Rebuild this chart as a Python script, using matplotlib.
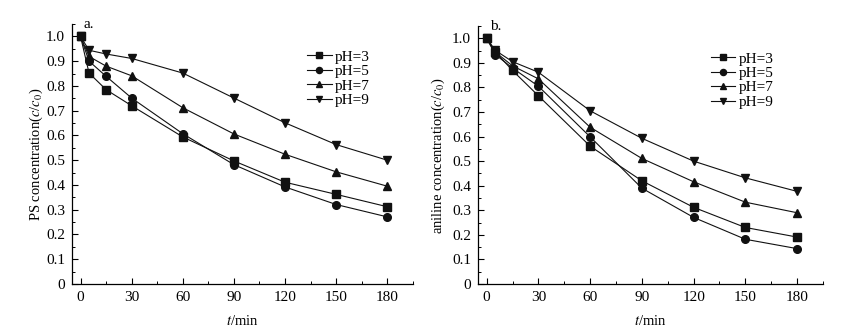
import matplotlib
matplotlib.use('Agg')
import matplotlib.pyplot as plt
from matplotlib.ticker import MultipleLocator, FuncFormatter

plt.rcParams['font.family'] = ['Liberation Serif', 'DejaVu Serif']
plt.rcParams['mathtext.fontset'] = 'stix'
plt.rcParams['font.size'] = 11

t = [0, 5, 15, 30, 60, 90, 120, 150, 180]
labels = ['pH=3', 'pH=5', 'pH=7', 'pH=9']
markers = ['s', 'o', '^', 'v']

# panel a: PS
ps_ph3 = [1.0, 0.852, 0.785, 0.72, 0.594, 0.497, 0.411, 0.362, 0.312]
ps_ph5 = [1.0, 0.90, 0.839, 0.751, 0.607, 0.482, 0.392, 0.321, 0.271]
ps_ph7 = [1.0, 0.919, 0.88, 0.841, 0.712, 0.606, 0.524, 0.453, 0.395]
ps_ph9 = [1.0, 0.944, 0.929, 0.911, 0.852, 0.751, 0.651, 0.563, 0.50]

# panel b: aniline
an_ph3 = [1.0, 0.945, 0.869, 0.766, 0.561, 0.42, 0.312, 0.230, 0.191]
an_ph5 = [1.0, 0.934, 0.879, 0.805, 0.599, 0.390, 0.271, 0.182, 0.144]
an_ph7 = [1.0, 0.944, 0.888, 0.835, 0.638, 0.511, 0.416, 0.333, 0.29]
an_ph9 = [1.0, 0.951, 0.905, 0.862, 0.705, 0.593, 0.50, 0.432, 0.377]

fig = plt.figure(figsize=(8.48, 3.32), dpi=100)
ax1 = fig.add_axes([0.0849, 0.1446, 0.402, 0.783])
ax2 = fig.add_axes([0.5637, 0.1446, 0.4068, 0.777])


def yfmt(v, pos):
    return '0' if abs(v) < 1e-9 else '%.1f' % v


def draw(ax, series, ylabel, tag, legx, ypad):
    for ys, lab, m in zip(series, labels, markers):
        ax.plot(t, ys, color='#111111', lw=0.8, marker=m, ms=5.5, label=lab)
    ax.set_xlim(-5, 195)
    ax.set_ylim(0, 1.05)
    ax.xaxis.set_major_locator(MultipleLocator(30))
    ax.xaxis.set_minor_locator(MultipleLocator(15))
    ax.yaxis.set_major_locator(MultipleLocator(0.1))
    ax.yaxis.set_minor_locator(MultipleLocator(0.05))
    ax.yaxis.set_major_formatter(FuncFormatter(yfmt))
    ax.spines['top'].set_visible(False)
    ax.spines['right'].set_visible(False)
    for s in ('left', 'bottom'):
        ax.spines[s].set_linewidth(0.9)
    ax.tick_params(direction='in', length=4, width=0.8, pad=5)
    ax.tick_params(which='minor', direction='in', length=2.5, width=0.7)
    ax.set_xlabel(r'$t$/min', labelpad=7, fontsize=10.5)
    ax.set_ylabel(ylabel, labelpad=ypad, fontsize=10.5)
    ax.text(0.035, 1.0, tag, transform=ax.transAxes, ha='left', va='center')
    ax.legend(loc='upper left', bbox_to_anchor=(legx, 0.90), frameon=False,
              handlelength=1.6, handletextpad=0.2, labelspacing=0.05,
              borderpad=0, borderaxespad=0, fontsize=11, markerscale=0.8)


draw(ax1, [ps_ph3, ps_ph5, ps_ph7, ps_ph9], r'PS concentration($c$/$c_0$)', 'a.', 0.69, 0.5)
draw(ax2, [an_ph3, an_ph5, an_ph7, an_ph9], r'aniline concentration($c$/$c_0$)', 'b.', 0.675, 4)

fig.savefig('out.png', dpi=100)
